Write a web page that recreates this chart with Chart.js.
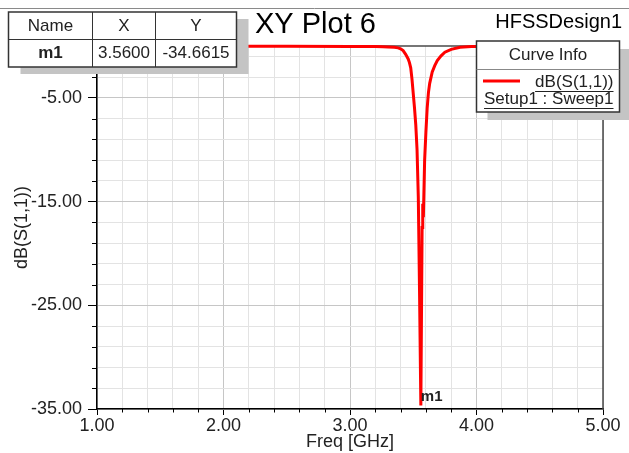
<!DOCTYPE html>
<html>
<head>
<meta charset="utf-8">
<script src="https://cdn.jsdelivr.net/npm/chart.js@4"></script>
<style>
  html, body { margin: 0; padding: 0; background: #fff; }
  #wrap { width: 629px; height: 453px; position: relative; }
</style>
</head>
<body>
<div id="wrap"><canvas id="c" width="629" height="453"></canvas></div>
<script>
// ---- data ----
const freqGHz = [1.00, 1.50, 2.00, 2.50, 3.00, 3.20, 3.26, 3.30, 3.35, 3.38, 3.40, 3.42, 3.44, 3.46, 3.47, 3.48, 3.49, 3.50, 3.51, 3.52, 3.53, 3.54, 3.55, 3.56, 3.57, 3.575, 3.58, 3.59, 3.60, 3.61, 3.62, 3.63, 3.65, 3.67, 3.69, 3.72, 3.75, 3.80, 3.87, 3.96, 4.50, 5.00];
const s11dB   = [-0.02, -0.02, -0.03, -0.03, -0.04, -0.05, -0.07, -0.09, -0.13, -0.18, -0.27, -0.45, -0.80, -1.25, -1.60, -2.10, -3.20, -4.60, -6.00, -7.60, -10.0, -14.6, -24.0, -34.6615, -17.5, -15.2, -16.5, -11.0, -8.3, -6.0, -4.5, -3.6, -2.5, -1.9, -1.4, -0.95, -0.60, -0.32, -0.12, -0.04, -0.02, -0.02];
const xTickLabels = [1, 2, 3, 4, 5];
const yTickLabels = [-35, -25, -15, -5];
const xMinorStep = 0.2;
const yMinorStep = 2;
const markerName = 'm1';
const markerFreq = 3.56;
const markerDb = -34.6615;
const seriesName = 'dB(S(1,1))';
const sweepName = 'Setup1 : Sweep1';
const plotTitle = 'XY Plot 6';
const designName = 'HFSSDesign1';

const FONT = "'Liberation Sans', Arial, sans-serif";
const r2 = v => Math.round(v * 1000) / 1000;
const isMajorX = v => xTickLabels.some(t => Math.abs(t - v) < 1e-6);
const isMajorY = v => yTickLabels.some(t => Math.abs(t - v) < 1e-6);

const overlay = {
  id: 'overlay',
  beforeDatasetsDraw(chart) {
    const { ctx, chartArea: a, scales } = chart;
    ctx.save();
    ctx.strokeStyle = '#4a4a4a';
    ctx.lineWidth = 1.5;
    ctx.beginPath();
    ctx.moveTo(a.left, a.top); ctx.lineTo(a.right, a.top); ctx.lineTo(a.right, a.bottom);
    ctx.stroke();
    ctx.strokeStyle = '#000';
    ctx.lineWidth = 1;
    ctx.beginPath();
    scales.x.ticks.forEach(t => {
      if (!isMajorX(t.value)) {
        const px = Math.round(scales.x.getPixelForValue(t.value)) + 0.5;
        ctx.moveTo(px, a.bottom); ctx.lineTo(px, a.bottom + 3.5);
      }
    });
    scales.y.ticks.forEach(t => {
      if (!isMajorY(t.value)) {
        const py = Math.round(scales.y.getPixelForValue(t.value)) + 0.5;
        ctx.moveTo(a.left, py); ctx.lineTo(a.left - 5, py);
      }
    });
    ctx.stroke();
    ctx.restore();
  },
  afterDraw(chart) {
    const { ctx, scales } = chart;
    ctx.save();
    ctx.strokeStyle = '#8a8a8a';
    ctx.lineWidth = 1;
    ctx.beginPath(); ctx.moveTo(0, 8.5); ctx.lineTo(629, 8.5); ctx.stroke();

    const mx = scales.x.getPixelForValue(markerFreq);
    const my = scales.y.getPixelForValue(markerDb);
    ctx.fillStyle = '#222';
    ctx.font = 'bold 15px ' + FONT;
    ctx.textAlign = 'left'; ctx.textBaseline = 'middle';
    ctx.fillText(markerName, mx, my - 9);

    ctx.fillStyle = '#000';
    ctx.font = '29px ' + FONT;
    ctx.textAlign = 'left'; ctx.textBaseline = 'alphabetic';
    ctx.fillText(plotTitle, 255, 33);
    ctx.font = '20px ' + FONT;
    ctx.textAlign = 'right';
    ctx.fillText(designName, 622, 27.5);

    const tx = 8.5, ty = 12, tw = 228, th = 55;
    ctx.fillStyle = '#c4c4c4';
    ctx.fillRect(tx + 12, ty + 7, tw, th);
    ctx.fillStyle = '#fff';
    ctx.fillRect(tx, ty, tw, th);
    ctx.strokeStyle = '#333';
    ctx.lineWidth = 1.5;
    ctx.strokeRect(tx, ty, tw, th);
    ctx.lineWidth = 1;
    ctx.beginPath();
    ctx.moveTo(tx, 39.5); ctx.lineTo(tx + tw, 39.5);
    ctx.moveTo(92.5, ty); ctx.lineTo(92.5, ty + th);
    ctx.moveTo(155.5, ty); ctx.lineTo(155.5, ty + th);
    ctx.stroke();
    ctx.fillStyle = '#222';
    ctx.textAlign = 'center'; ctx.textBaseline = 'middle';
    ctx.font = '17px ' + FONT;
    ctx.fillText('Name', 50.5, 26.5);
    ctx.fillText('X', 124, 26.5);
    ctx.fillText('Y', 196, 26.5);
    ctx.font = 'bold 17px ' + FONT;
    ctx.fillText(markerName, 50.5, 53.5);
    ctx.font = '17px ' + FONT;
    ctx.fillText(markerFreq.toFixed(4), 124, 53.5);
    ctx.fillText(markerDb.toFixed(4), 196, 53.5);

    const lx = 476.5, ly = 41, lw = 143, lh = 71;
    ctx.fillStyle = '#c4c4c4';
    ctx.fillRect(lx + 11, ly + 8, lw, lh);
    ctx.fillStyle = '#fff';
    ctx.fillRect(lx, ly, lw, lh);
    ctx.strokeStyle = '#333';
    ctx.lineWidth = 1.5;
    ctx.strokeRect(lx, ly, lw, lh);
    ctx.lineWidth = 1;
    ctx.strokeStyle = '#888';
    ctx.beginPath(); ctx.moveTo(lx, 69.5); ctx.lineTo(lx + lw, 69.5); ctx.stroke();
    ctx.fillStyle = '#222';
    ctx.font = '17px ' + FONT;
    ctx.textAlign = 'center'; ctx.textBaseline = 'middle';
    ctx.fillText('Curve Info', lx + lw / 2, 55.5);
    const ds = chart.data.datasets[0];
    ctx.strokeStyle = ds.borderColor; ctx.lineWidth = 3;
    ctx.beginPath(); ctx.moveTo(483, 81); ctx.lineTo(520, 81); ctx.stroke();
    ctx.textAlign = 'right';
    ctx.fillText(ds.label, 613.5, 82);
    let w = ctx.measureText(ds.label).width;
    ctx.strokeStyle = '#222'; ctx.lineWidth = 1;
    ctx.beginPath(); ctx.moveTo(613.5 - w, 91.5); ctx.lineTo(613.5, 91.5); ctx.stroke();
    ctx.fillText(sweepName, 613.5, 99.5);
    w = ctx.measureText(sweepName).width;
    ctx.beginPath(); ctx.moveTo(613.5 - w, 108.5); ctx.lineTo(613.5, 108.5); ctx.stroke();
    ctx.restore();
  }
};

new Chart(document.getElementById('c'), {
  type: 'line',
  data: {
    datasets: [{
      label: seriesName,
      data: freqGHz.map((f, i) => ({ x: f, y: s11dB[i] })),
      borderColor: '#ff0000',
      borderWidth: 3,
      pointRadius: 0,
      tension: 0,
      fill: false,
      clip: 4
    }]
  },
  options: {
    responsive: false,
    animation: false,
    events: [],
    layout: { padding: { top: 46, right: 26, left: 0, bottom: 0 } },
    plugins: { legend: { display: false }, tooltip: { enabled: false }, title: { display: false } },
    scales: {
      x: {
        type: 'linear',
        min: xTickLabels[0],
        max: xTickLabels[xTickLabels.length - 1],
        afterBuildTicks: s => {
          const t = [];
          for (let v = s.min; v <= s.max + 1e-9; v += xMinorStep) t.push({ value: r2(v) });
          s.ticks = t;
        },
        afterFit: s => { s.height = 44; },
        ticks: {
          autoSkip: false, maxRotation: 0, padding: 0,
          color: '#222',
          font: { family: FONT, size: 18 },
          callback: v => isMajorX(v) ? Number(v).toFixed(2) : ''
        },
        grid: {
          color: c => (c.tick && isMajorX(c.tick.value)) ? '#c6c6c6' : '#e3e3e3',
          tickColor: c => (c.tick && isMajorX(c.tick.value)) ? '#000' : 'rgba(0,0,0,0)',
          tickLength: 6,
          lineWidth: 1
        },
        border: { color: '#000', width: 1.5 },
        title: { display: true, text: 'Freq [GHz]', color: '#222', font: { family: FONT, size: 18 }, padding: { top: 2, bottom: 0 } }
      },
      y: {
        type: 'linear',
        min: -35,
        max: 0,
        afterBuildTicks: s => {
          const t = [];
          for (let v = s.min; v < s.max - 1e-9; v += yMinorStep) t.push({ value: r2(v) });
          s.ticks = t;
        },
        afterFit: s => { s.width = 97; },
        ticks: {
          autoSkip: false, padding: 6,
          color: '#222',
          font: { family: FONT, size: 18 },
          callback: v => isMajorY(v) ? Number(v).toFixed(2) : ''
        },
        grid: {
          color: c => (c.tick && isMajorY(c.tick.value)) ? '#c6c6c6' : '#e3e3e3',
          tickColor: c => (c.tick && isMajorY(c.tick.value)) ? '#000' : 'rgba(0,0,0,0)',
          tickLength: 9,
          lineWidth: 1
        },
        border: { color: '#000', width: 1.5 },
        title: { display: true, text: 'dB(S(1,1))', color: '#222', font: { family: FONT, size: 18 }, padding: { top: 11, bottom: 0 } }
      }
    }
  },
  plugins: [overlay]
});
</script>
</body>
</html>
